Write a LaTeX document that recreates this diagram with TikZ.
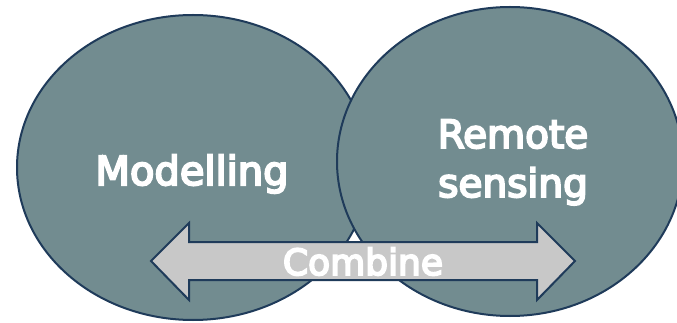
\documentclass[tikz,border=0pt]{standalone}
\usepackage{fontspec}
\setmainfont{DejaVu Sans}[FakeBold=5]
\usetikzlibrary{shapes.geometric}
\definecolor{blobfill}{HTML}{728C90}
\definecolor{blobline}{HTML}{1F3B5A}
\definecolor{arrowfill}{HTML}{C8C8C8}
\tikzset{
  blob/.style={ellipse, draw=blobline, fill=blobfill, line width=2pt, inner sep=0pt},
  lbl/.style={text=white, align=center, inner sep=0pt},
  arrowbody/.style={draw=blobline, fill=arrowfill, line width=2pt, line join=miter}
}
\begin{document}
\begin{tikzpicture}[x=1pt,y=-1pt]
\useasboundingbox (0,0) rectangle (677,323);
\clip (0,0) rectangle (677,323);
\node[blob, minimum width=352pt, minimum height=305pt] (model) at (193,167.5) {};
\node[blob, minimum width=346pt, minimum height=309pt] (remote) at (510,161.5) {};
\node[lbl, anchor=base, font=\fontsize{40}{50}\selectfont] (tmodel) at (192,185) {Modelling};
\node[lbl, anchor=base, font=\fontsize{39}{50}\selectfont] (tremote) at (513,148) {Remote};
\node[lbl, anchor=base, font=\fontsize{39}{50}\selectfont] (tsensing) at (513,197) {sensing};
\draw[arrowbody] (151,261) -- (189,223) -- (189,242) -- (537,242) -- (537,223)
  -- (575,261) -- (537,300) -- (537,280) -- (189,280) -- (189,300) -- cycle;
\node[lbl, anchor=base, font=\fontsize{36}{50}\selectfont] (tcombine) at (363,275) {Combine};
\end{tikzpicture}
\end{document}
